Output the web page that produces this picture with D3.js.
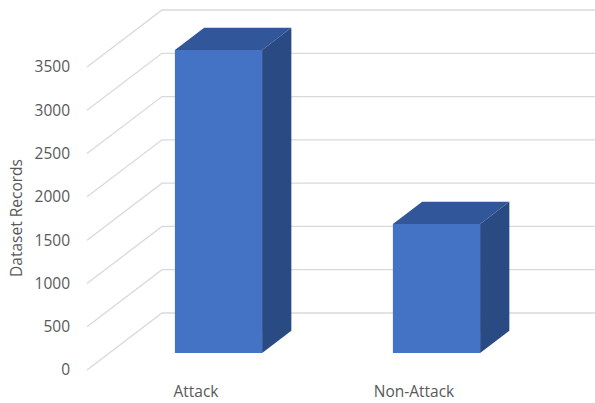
<!DOCTYPE html>
<html>
<head>
<meta charset="utf-8">
<script src="https://cdn.jsdelivr.net/npm/d3@7"></script>
<style>
  body { margin: 0; background: #fff; }
  text { font-family: "Open Sans", sans-serif; fill: #595959; }
</style>
</head>
<body>
<svg width="595" height="403"></svg>
<script>
const categories = ["Attack", "Non-Attack"];
const records = [3500, 1490];
const yTicks = [0, 500, 1000, 1500, 2000, 2500, 3000, 3500];

const svg = d3.select("svg");

// oblique 3D: front plane + depth vector going back
const depthX = 75;
const depthY = 57;
const barFront = 0.3;
const barBack = 0.69;

const x = d3.scaleBand()
  .domain(categories)
  .range([87, 523])
  .paddingInner(0.6)
  .paddingOuter(0.3);

const y = d3.scaleLinear()
  .domain([0, 3500])
  .range([370, 67]);

const proj = (px, v, f) => [px + f * depthX, y(v) - f * depthY];

// gridlines: floor diagonal then back wall
const grid = svg.append("g")
  .attr("fill", "none")
  .attr("stroke", "#d9d9d9")
  .attr("stroke-width", 1.3);

grid.selectAll("path")
  .data(yTicks)
  .join("path")
  .attr("d", d => {
    const a = proj(87, d, 0);
    const b = proj(87, d, 1);
    return `M${a[0]},${a[1]}L${b[0]},${b[1]}H595`;
  });

svg.append("g")
  .attr("text-anchor", "end")
  .attr("font-size", 15.5)
  .selectAll("text")
  .data(yTicks)
  .join("text")
  .attr("x", 70)
  .attr("y", d => y(d))
  .attr("dy", "0.35em")
  .text(d => d);

svg.append("text")
  .attr("transform", `translate(17, 218) rotate(-90)`)
  .attr("text-anchor", "middle")
  .attr("dy", "0.35em")
  .attr("font-size", 15.5)
  .text("Dataset Records");

const bars = svg.append("g")
  .selectAll("g")
  .data(categories.map((c, i) => ({ c, v: records[i] })))
  .join("g");

const poly = pts => "M" + pts.map(p => p.join(",")).join("L") + "Z";

// front face
bars.append("path")
  .attr("fill", "#4472c4")
  .attr("d", d => {
    const l = x(d.c), r = x(d.c) + x.bandwidth();
    return poly([proj(l, 0, barFront), proj(r, 0, barFront), proj(r, d.v, barFront), proj(l, d.v, barFront)]);
  });

// top face
bars.append("path")
  .attr("fill", "#32569a")
  .attr("d", d => {
    const l = x(d.c), r = x(d.c) + x.bandwidth();
    return poly([proj(l, d.v, barFront), proj(r, d.v, barFront), proj(r, d.v, barBack), proj(l, d.v, barBack)]);
  });

// side face
bars.append("path")
  .attr("fill", "#2a4a84")
  .attr("d", d => {
    const r = x(d.c) + x.bandwidth();
    return poly([proj(r, 0, barFront), proj(r, 0, barBack), proj(r, d.v, barBack), proj(r, d.v, barFront)]);
  });

svg.append("g")
  .attr("text-anchor", "middle")
  .attr("font-size", 15.5)
  .selectAll("text")
  .data(categories)
  .join("text")
  .attr("x", d => x(d) + x.bandwidth() / 2)
  .attr("y", 392)
  .attr("dy", "0.35em")
  .text(d => d);
</script>
</body>
</html>
